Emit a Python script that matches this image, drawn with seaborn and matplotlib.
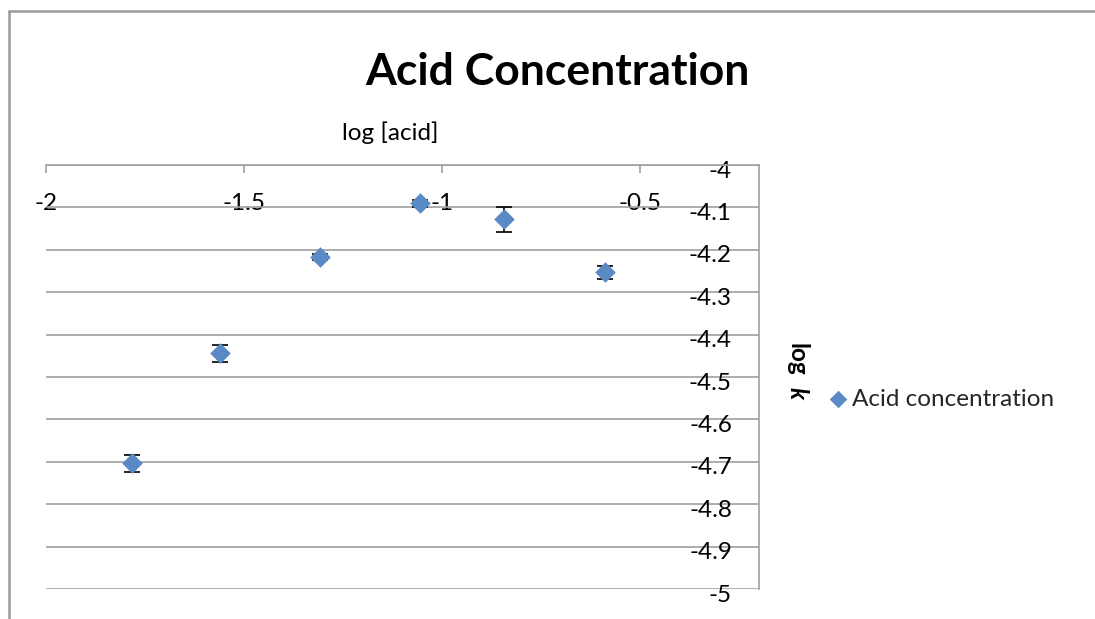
import matplotlib
matplotlib.use("Agg")
import matplotlib.pyplot as plt
from matplotlib.patches import Rectangle
from matplotlib.transforms import ScaledTranslation
import seaborn as sns
import pandas as pd

# ---- data ----
log_acid = [-1.783, -1.561, -1.308, -1.056, -0.843, -0.588]
log_k = [-4.704, -4.444, -4.217, -4.090, -4.128, -4.253]
err = [0.02, 0.02, 0.008, 0.008, 0.03, 0.015]
x_ticks = [-2, -1.5, -1, -0.5]
y_ticks = [-4, -4.1, -4.2, -4.3, -4.4, -4.5, -4.6, -4.7, -4.8, -4.9, -5]
series_name = "Acid concentration"
title = "Acid Concentration"

df = pd.DataFrame({"log_acid": log_acid, "log_k": log_k, "err": err})

sns.set_theme(style="white")
plt.rcParams["font.family"] = ["Lato", "DejaVu Sans"]

W, H = 1095, 619
fig = plt.figure(figsize=(W / 100, H / 100), dpi=100)
fig.patch.set_facecolor("white")

def fx(px):
    return px / W

def fy(py):
    return 1 - py / H

FS = 17.5
L, R, T, B = 46, 759, 165, 589
ax = fig.add_axes([fx(L), fy(B), fx(R - L), (B - T) / H])
ax.set_facecolor("white")

blue = "#5A8AC6"
grid_c = "#A0A0A0"

ax.errorbar(df["log_acid"], df["log_k"], yerr=df["err"], fmt="none",
            ecolor="black", elinewidth=1.2, capsize=6, capthick=1.2, zorder=2)
sns.scatterplot(data=df, x="log_acid", y="log_k", marker="D", s=110,
                color=blue, linewidth=0, ax=ax, zorder=3, label=series_name)

ax.set_xlim(-2, -0.2)
ax.set_ylim(-5, -4)
ax.set_xticks(x_ticks)
ax.set_xticklabels([f"{v:g}" for v in x_ticks])
ax.set_yticks(y_ticks)
ax.set_yticklabels([f"{v:g}" for v in y_ticks])
ax.set_xlabel("")
ax.set_ylabel("")

ax.xaxis.tick_top()
ax.tick_params(axis="x", which="both", top=True, bottom=False, labeltop=True,
               labelbottom=False, direction="in", length=6, width=1.2,
               color=grid_c, pad=-35.3, labelsize=FS, labelcolor="black")
ax.yaxis.tick_right()
ax.tick_params(axis="y", which="both", right=True, left=False, labelright=True,
               labelleft=False, length=0, pad=-19.5, labelsize=FS,
               labelcolor="black")
shift = ScaledTranslation(0, -4 / 100, fig.dpi_scale_trans)
for t in ax.get_yticklabels():
    t.set_horizontalalignment("right")
    t.set_transform(t.get_transform() + shift)

ax.yaxis.grid(True, color=grid_c, linewidth=1.2)
ax.xaxis.grid(False)
for side in ["left", "bottom"]:
    ax.spines[side].set_visible(False)
for side in ["top", "right"]:
    ax.spines[side].set_visible(True)
    ax.spines[side].set_color(grid_c)
    ax.spines[side].set_linewidth(1.2)

# legend
leg = ax.legend(loc="center left", bbox_to_anchor=(fx(826), fy(399)),
                bbox_transform=fig.transFigure, frameon=False, fontsize=FS,
                handlelength=1.0, handletextpad=0.08, borderpad=0,
                borderaxespad=0, markerscale=0.85)

# titles and axis labels
fig.text(fx(557), fy(72), title, ha="center", va="center",
         fontsize=32, fontweight="bold", color="black")
fig.text(fx(390), fy(133), "log [acid]", ha="center", va="center",
         fontsize=FS, color="black")
fig.text(fx(797), fy(359), "log", ha="center", va="center", rotation=-90,
         fontsize=FS, fontweight="bold", color="black")
fig.text(fx(797), fy(393), "k", ha="center", va="center", rotation=-90,
         fontsize=FS, fontweight="bold", fontstyle="italic", color="black")

# outer chart frame (cropped on right and bottom)
fig.add_artist(Rectangle((fx(9), -0.1), 1.2, fy(11) + 0.1,
                         transform=fig.transFigure, fill=False,
                         edgecolor="#999999", linewidth=1.8))

fig.savefig("out.png", dpi=100)
